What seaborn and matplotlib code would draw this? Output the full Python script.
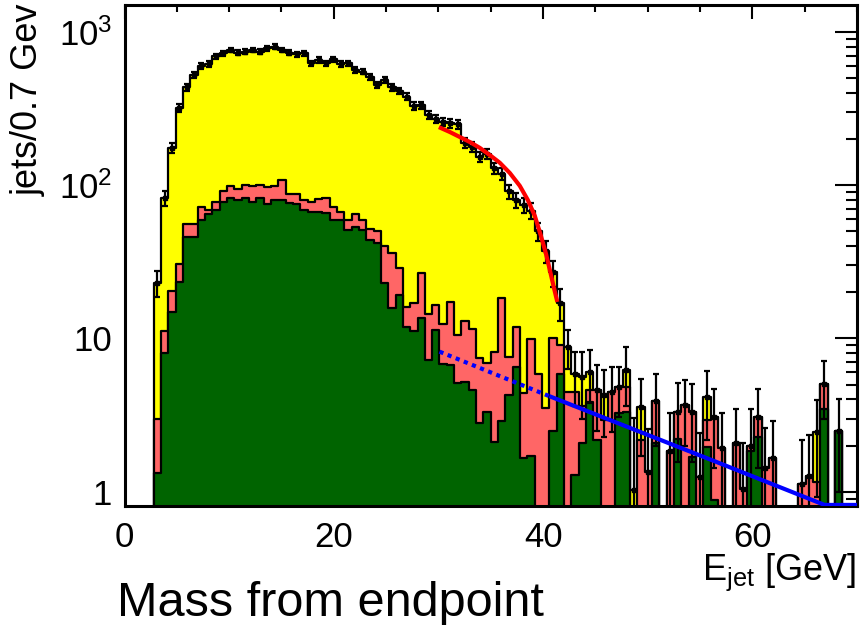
import numpy as np
import pandas as pd
import matplotlib
matplotlib.use("Agg")
import matplotlib.pyplot as plt
import seaborn as sns
from matplotlib.ticker import MultipleLocator, LogLocator, NullFormatter, FixedLocator

# ---------------- data ----------------
bin_width = 0.7
n_bins = 100

total = [0, 0, 0, 0, 23, 82, 174, 320, 435, 523,
         598, 617, 695, 724, 761, 731, 742, 761, 742, 780,
         800, 761, 731, 716, 724, 622, 655, 622, 662, 617,
         622, 565, 550, 505, 450, 485, 435, 413, 378, 328,
         333, 287, 269, 259, 253, 250, 188, 178, 153, 160,
         129, 119, 91, 80, 74, 68, 50, 37, 27, 17,
         8.8, 5.9, 5.6, 6.07, 4.6, 4.26, 4.5, 4.8, 6.2, 1.03,
         3.55, 1.35, 3.93, 0, 1.85, 3.33, 3.68, 3.3, 1.25, 4.17,
         3.06, 1.92, 0, 2.07, 1.04, 2.0, 3.06, 1.42, 1.65, 0,
         0, 0, 1.13, 1.27, 2.45, 5.05, 0, 2.5, 0, 0]

salmon = [0, 0, 0, 0, 3.0, 11.1, 20.5, 30.6, 56, 56,
          72, 69, 78, 91, 98, 95, 100, 99, 100, 97,
          99, 108, 88, 88, 80, 78, 81, 83, 72, 67,
          59, 65, 59, 52, 50, 40, 36, 29, 16, 17,
          26.6, 14.4, 16.5, 12.4, 17.4, 10.5, 13.0, 11.6, 7.4, 6.9,
          8.2, 18.3, 7.6, 11.8, 4.4, 9.9, 5.9, 3.5, 10.0, 9.0,
          4.5, 4.5, 3.6, 4.6, 4.6, 2.93, 4.5, 4.8, 4.84, 0,
          2.17, 1.35, 3.93, 0, 1.85, 3.33, 3.68, 3.3, 1.25, 2.93,
          3.06, 1.92, 0, 2.07, 1.04, 2.0, 3.06, 1.42, 1.65, 0,
          0, 0, 1.13, 1.27, 1.16, 5.05, 0, 2.5, 0, 0]

green = [0, 0, 0, 0, 1.32, 8.0, 14.9, 23.2, 46, 46,
         59, 65, 69, 78, 83, 80, 83, 78, 83, 75,
         80, 80, 77, 75, 69, 67, 67, 66, 59, 59,
         51, 53, 51, 44, 42, 23, 15.7, 19.2, 11.8, 11.1,
         13.5, 7.2, 11.3, 6.8, 6.7, 5.1, 5.2, 4.6, 2.8, 3.3,
         2.1, 2.9, 4.3, 6.5, 1.65, 1.7, 0, 0, 2.5, 5.9,
         0, 1.28, 2.07, 3.86, 2.17, 0, 0, 3.25, 3.3, 0,
         0, 0, 2.07, 0, 0, 2.2, 0, 1.69, 0, 1.97,
         0.88, 0, 0, 0, 0, 1.85, 2.28, 0, 0, 0,
         0, 0, 0, 0, 0, 3.46, 0, 2.5, 0, 0]

errors = [0, 0, 0, 0, 4.5, 9, 13, 18, 21, 23,
          24, 25, 26, 27, 28, 27, 27, 28, 27, 28,
          28, 28, 27, 27, 27, 25, 26, 25, 26, 25,
          25, 24, 23, 22, 21, 22, 21, 20, 19, 18,
          18, 17, 16, 16, 16, 16, 14, 13, 12, 13,
          11, 11, 9.5, 9, 8.6, 8.2, 7, 6, 5.2, 4.1,
          2.5, 2.3, 2.6, 2.3, 2.1, 2.0, 2.05, 1.75, 2.55, 2.0,
          1.85, 1.2, 1.93, 0, 1.4, 1.77, 1.7, 1.73, 1.15, 1.98,
          1.64, 1.36, 0, 1.38, 1.05, 1.46, 1.64, 1.2, 1.25, 0,
          0, 0, 1.04, 1.08, 1.52, 2.05, 0, 1.5, 0, 0]

# endpoint fit (red) and background (blue) curves
red_E = [30.04, 31.09, 32.04, 33.00, 33.95, 34.91, 35.86, 36.82, 37.77, 38.54,
         39.21, 39.78, 40.26, 40.64, 41.02, 41.36]
red_v = [239, 222, 206, 191, 175, 157, 140, 120, 99, 80,
         63, 47, 36, 28, 21.6, 17.3]
blue_dot_E = [30.1, 40.6]
blue_dot_v = [8.2, 4.2]
blue_E = [40.6, 56.2, 66.9, 70.0]
blue_v = [4.2, 1.6, 0.82, 0.82]

x_ticks = [0, 20, 40, 60]
y_ticks = [1, 10, 100, 1000]
y_tick_labels = ["1", "10", r"$10^{2}$", r"$10^{3}$"]

# ---------------- plotting ----------------
sns.set_style("white")
plt.rcParams["font.family"] = ["Liberation Sans", "DejaVu Sans"]
plt.rcParams["mathtext.fontset"] = "custom"
plt.rcParams["mathtext.rm"] = "Liberation Sans"
plt.rcParams["mathtext.it"] = "Liberation Sans"
plt.rcParams["text.color"] = "black"
plt.rcParams["axes.labelcolor"] = "black"
plt.rcParams["xtick.color"] = "black"
plt.rcParams["ytick.color"] = "black"

edges = (np.arange(n_bins + 1) * bin_width).tolist()
centers = np.array(edges[:-1]) + bin_width / 2
df = pd.DataFrame({"E": centers, "total": total, "salmon": salmon, "green": green})

fig = plt.figure(figsize=(8.61, 6.25), dpi=100)
ax = fig.add_axes([0.1446, 0.1904, 0.8508, 0.8016])

for col, colr in [("total", "#ffff00"), ("salmon", "#ff6666"), ("green", "#006400")]:
    sns.histplot(data=df, x="E", weights=col, bins=edges, element="step", fill=True,
                 color=colr, edgecolor="black", linewidth=1.6, alpha=1, ax=ax)

ax.set_yscale("log")

T = np.array(total, dtype=float)
err = np.array(errors, dtype=float)
m = T > 0
low = np.minimum(err[m], T[m] - 0.3)
ax.errorbar(centers[m], T[m], yerr=[low, err[m]], fmt="s", ms=3.4, color="black",
            ecolor="black", elinewidth=1.6, capsize=2.0, capthick=1.6, zorder=5)

ax.plot(red_E, red_v, color="#ff0000", lw=3.0, zorder=6, solid_capstyle="butt",
        solid_joinstyle="round")
ax.plot(blue_dot_E, blue_dot_v, color="#0000ff", lw=3.0, ls=(0, (1, 1.1)),
        dash_capstyle="butt", zorder=6)
ax.plot(blue_E, blue_v, color="#0000ff", lw=3.0, zorder=6, solid_capstyle="butt")

ax.set_xlim(0, 70)
ax.set_ylim(0.807, 1496)
ax.set_xlabel("")
ax.set_ylabel("")

ax.xaxis.set_major_locator(FixedLocator(x_ticks))
ax.set_xticklabels([str(v) for v in x_ticks])
ax.xaxis.set_minor_locator(MultipleLocator(5))
ax.yaxis.set_major_locator(FixedLocator(y_ticks))
ax.set_yticklabels(y_tick_labels)
ax.yaxis.set_minor_locator(LogLocator(base=10, subs=np.arange(2, 10)))
ax.yaxis.set_minor_formatter(NullFormatter())

ax.tick_params(axis="both", which="both", direction="in", top=True, right=True,
               width=1.5, labelsize=25, colors="black")
ax.tick_params(axis="x", which="major", length=10, pad=11)
ax.tick_params(axis="x", which="minor", length=5)
ax.tick_params(axis="y", which="major", length=16, pad=9)
ax.tick_params(axis="y", which="minor", length=8)
for s in ax.spines.values():
    s.set_linewidth(2.2)
    s.set_color("black")

fig.text(28 / 861, 1 - 3 / 625, "jets/0.7 Gev", rotation=90, ha="center", va="top",
         fontsize=26, color="black")
fig.text(856 / 861, 1 - 580 / 625, r"E$_{\mathrm{jet}}$ [GeV]", ha="right",
         va="baseline", fontsize=26, color="black")
fig.text(117 / 861, 1 - 616 / 625, "Mass from endpoint", ha="left", va="baseline",
         fontsize=35, color="black")

fig.savefig("out.png", dpi=100)
